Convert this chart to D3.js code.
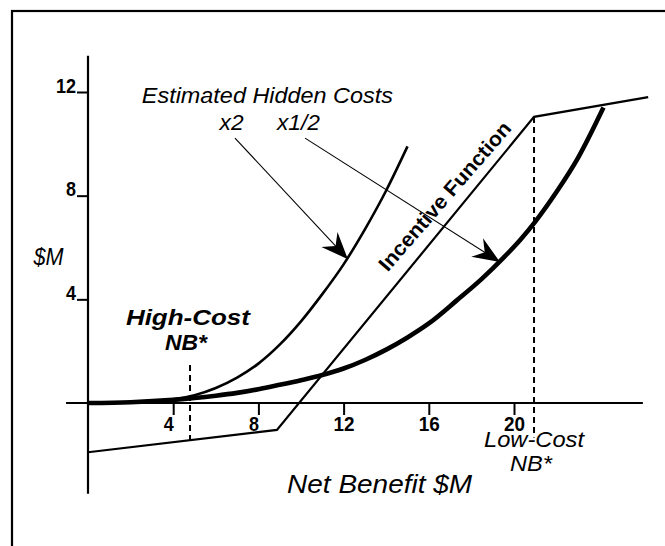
<!DOCTYPE html>
<html><head><meta charset="utf-8">
<script src="https://cdn.jsdelivr.net/npm/d3@7"></script>
<style>html,body{margin:0;padding:0;background:#fff}svg{display:block}</style>
</head><body>
<script>
// ---- data ----
const xTicks = [4, 8, 12, 16, 20];
const yTicks = [4, 8, 12];
// Incentive function (piecewise linear)
const incentive = [[0, -1.9], [8.87, -1.04], [20.94, 11.04], [26.3, 11.8]];
// Estimated hidden costs x2 (steeper curve)
const costX2 = [[0,0],[1,0.01],[2,0.03],[3,0.07],[4,0.14],[5,0.3],[6,0.58],[7,0.98],[8,1.52],[9,2.25],[10,3.15],[11,4.2],[12,5.35],[13,6.7],[14,8.2],[15,9.9]];
// Estimated hidden costs x1/2 (shallower curve)
const costHalf = [[0,0],[2,0.03],[4,0.12],[5,0.19],[6,0.28],[7,0.39],[8,0.53],[9,0.7],[10,0.88],[11,1.08],[12,1.33],[13,1.66],[14,2.06],[15,2.53],[16,3.07],[17.3,3.95],[18.5,4.8],[19.5,5.6],[20.3,6.3],[21,7.0],[22,8.15],[23,9.45],[24.2,11.4]];
// NB* markers: [x, yTop, yBottom]
const nbMarkers = [[4.79, 1.47, -1.44], [20.94, 11.04, -1.33]];
// annotation arrows: [x1,y1,x2,y2]
const arrows = [[6.9, 10.22, 12.2, 5.55], [10.19, 10.22, 19.34, 5.44]];

const W = 665, H = 546;
const x = d3.scaleLinear().domain([0, 20]).range([88, 514]);
const y = d3.scaleLinear().domain([0, 12]).range([403, 92]);

const svg = d3.select("body").append("svg").attr("width", W).attr("height", H);
const FONT = "'Liberation Sans', Arial, Helvetica, sans-serif";

// frame (left & top visible)
svg.append("rect").attr("x", 12).attr("y", 11).attr("width", W).attr("height", H + 10)
  .attr("fill", "none").attr("stroke", "#000").attr("stroke-width", 2.2);

// marker
const defs = svg.append("defs");
defs.append("marker").attr("id", "ah").attr("markerUnits", "userSpaceOnUse")
  .attr("viewBox", "-30 -14 32 28").attr("refX", 0).attr("refY", 0)
  .attr("markerWidth", 32).attr("markerHeight", 28).attr("orient", "auto")
  .append("path").attr("d", "M0,0 L-27,-11 L-18,0 L-27,11 Z").attr("fill", "#000");

// axes
svg.append("line").attr("x1", x(0)).attr("x2", x(0)).attr("y1", y(13.4)).attr("y2", y(-3.5))
  .attr("stroke", "#000").attr("stroke-width", 2.2);
svg.append("line").attr("x1", x(-1.03)).attr("x2", x(26.05)).attr("y1", y(0)).attr("y2", y(0))
  .attr("stroke", "#000").attr("stroke-width", 2);

const xAxis = svg.append("g").attr("transform", `translate(0,${y(0)})`)
  .call(d3.axisBottom(x).tickValues(xTicks).tickSize(12).tickFormat(d3.format("d")));
xAxis.select(".domain").remove();
xAxis.selectAll(".tick line").attr("stroke", "#000").attr("stroke-width", 2);
xAxis.selectAll(".tick text").attr("y", 28).attr("dy", 0)
  .attr("dx", d => d < 10 ? -5 : 0)
  .attr("font-family", FONT).attr("font-weight", "bold").attr("font-size", 21)
  .attr("fill", "#000")
  .attr("textLength", d => d < 10 ? 10 : 21).attr("lengthAdjust", "spacingAndGlyphs");

const yAxis = svg.append("g").attr("transform", `translate(${x(0)},0)`)
  .call(d3.axisLeft(y).tickValues(yTicks).tickSize(11).tickFormat(d3.format("d")));
yAxis.select(".domain").remove();
yAxis.selectAll(".tick line").attr("stroke", "#000").attr("stroke-width", 2);
yAxis.selectAll(".tick text").attr("x", -12).attr("dy", 0).attr("y", 0)
  .attr("font-family", FONT).attr("font-weight", "bold").attr("font-size", 21)
  .attr("fill", "#000")
  .attr("textLength", d => d < 10 ? 10 : 20).attr("lengthAdjust", "spacingAndGlyphs");

const line = d3.line().x(d => x(d[0])).y(d => y(d[1]));
const curve = d3.line().x(d => x(d[0])).y(d => y(d[1])).curve(d3.curveMonotoneX);

svg.append("path").datum(incentive).attr("d", line).attr("fill", "none")
  .attr("stroke", "#000").attr("stroke-width", 2.2).attr("stroke-linejoin", "miter");
svg.append("path").datum(costX2).attr("d", curve).attr("fill", "none")
  .attr("stroke", "#000").attr("stroke-width", 2.6);
svg.append("path").datum(costHalf).attr("d", curve).attr("fill", "none")
  .attr("stroke", "#000").attr("stroke-width", 4.6);

// NB* dashed
svg.selectAll(".nb").data(nbMarkers).join("line")
  .attr("x1", d => x(d[0])).attr("x2", d => x(d[0]))
  .attr("y1", d => y(d[1])).attr("y2", d => y(d[2]))
  .attr("stroke", "#000").attr("stroke-width", 2).attr("stroke-dasharray", "6,4");

// arrows
svg.selectAll(".arr").data(arrows).join("line")
  .attr("x1", d => x(d[0])).attr("y1", d => y(d[1]))
  .attr("x2", d => x(d[2])).attr("y2", d => y(d[3]))
  .attr("stroke", "#000").attr("stroke-width", 1.1).attr("marker-end", "url(#ah)");

// text labels: [text, x, y, size, weight, style, textLength, rotate]
const labels = [
  ["Estimated Hidden Costs", 8.42, 11.57, 22.5, "normal", "italic", 251, 0],
  ["x2", 6.74, 10.53, 22.5, "normal", "italic", 24, 0],
  ["x1/2", 9.88, 10.53, 22.5, "normal", "italic", 43, 0],
  ["$M", -1.86, 5.32, 23, "normal", "italic", 30, 0],
  ["High-Cost", 4.69, 3.01, 21.5, "bold", "italic", 124, 0],
  ["NB*", 4.6, 2.04, 21.5, "bold", "italic", 42, 0],
  ["Low-Cost", 20.94, -1.70, 22.5, "normal", "italic", 100, 0],
  ["NB*", 20.8, -2.62, 22.5, "normal", "italic", 42, 0],
  ["Net Benefit $M", 13.69, -3.47, 25, "normal", "italic", 185, 0],
  ["Incentive Function", 17.0, 7.8, 20.5, "bold", "normal", 190, -49]
];
svg.selectAll(".lbl").data(labels).join("text")
  .attr("transform", d => `translate(${x(d[1])},${y(d[2])}) rotate(${d[7]})`)
  .attr("text-anchor", "middle")
  .attr("font-family", FONT).attr("font-size", d => d[3])
  .attr("font-weight", d => d[4]).attr("font-style", d => d[5])
  .attr("textLength", d => d[6]).attr("lengthAdjust", "spacingAndGlyphs")
  .attr("fill", "#000")
  .text(d => d[0]);
</script>
</body></html>
